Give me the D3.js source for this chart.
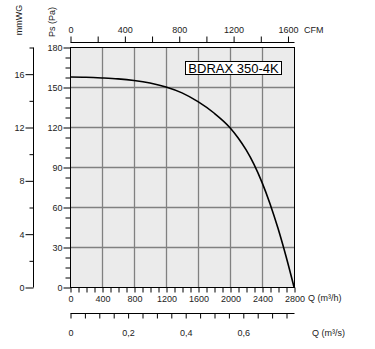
<!DOCTYPE html>
<html><head><meta charset="utf-8">
<script src="https://cdn.jsdelivr.net/npm/d3@7"></script>
<style>body{margin:0;background:#fff;} text{font-family:Arial,"Liberation Sans",sans-serif;fill:#222;}</style>
</head><body>
<script>
const flowM3h = [0, 200, 400, 600, 800, 1000, 1200, 1400, 1600, 1800, 2000, 2100, 2200, 2300, 2400, 2500, 2600, 2700, 2800];
const pressurePa = [157.5, 157.3, 156.8, 156.1, 154.9, 153, 150, 145.6, 139, 130.5, 119.5, 112, 103, 92, 78.5, 62.5, 44, 23, 0];
const paTicks = [0, 30, 60, 90, 120, 150, 180];
const mmTicks = [0, 4, 8, 12, 16];
const m3hTicks = [0, 400, 800, 1200, 1600, 2000, 2400, 2800];
const cfmTicks = [0, 400, 800, 1200, 1600];
const m3sTicks = [0, 0.2, 0.4, 0.6];
const modelName = "BDRAX 350-4K";

const W = 375, H = 349;
const FS = 9;
const svg = d3.select("body").append("svg").attr("width", W).attr("height", H);
const L = 70, R = 294, T = 47, B = 287;
const x = d3.scaleLinear().domain([0, 2800]).range([L, R]);
const y = d3.scaleLinear().domain([0, 180]).range([B, T]);
const yMm = d3.scaleLinear().domain([0, 18]).range([B, T]);
const xCfm = d3.scaleLinear().domain([0, 2800 / 1.699]).range([L, R]);
const xM3s = d3.scaleLinear().domain([0, 2800 / 3600]).range([L, R]);

// background
svg.append("rect").attr("x", L).attr("y", T).attr("width", R - L).attr("height", B - T).attr("fill", "#ebebeb");
// grid
svg.append("g").selectAll("line").data(m3hTicks.slice(1, -1)).join("line")
  .attr("x1", d => Math.round(x(d)) + 0.5).attr("x2", d => Math.round(x(d)) + 0.5)
  .attr("y1", T).attr("y2", B).attr("stroke", "#808080").attr("stroke-width", 1.3);
svg.append("g").selectAll("line").data(paTicks.slice(1, -1)).join("line")
  .attr("y1", d => Math.round(y(d)) + 0.5).attr("y2", d => Math.round(y(d)) + 0.5)
  .attr("x1", L).attr("x2", R).attr("stroke", "#808080").attr("stroke-width", 1.3);
svg.append("rect").attr("x", L + 0.5).attr("y", T + 0.5).attr("width", R - L).attr("height", B - T)
  .attr("fill", "none").attr("stroke", "#000").attr("stroke-width", 1);

// curve
const pts = flowM3h.map((q, i) => [q, pressurePa[i]]);
svg.append("path").datum(pts)
  .attr("d", d3.line().x(d => x(d[0])).y(d => y(d[1])).curve(d3.curveMonotoneX))
  .attr("fill", "none").attr("stroke", "#000").attr("stroke-width", 1.6);

// model box
const bx = 185, by = 61, bw = 96, bh = 13;
svg.append("rect").attr("x", bx + 0.5).attr("y", by + 0.5).attr("width", bw).attr("height", bh)
  .attr("fill", "#fff").attr("stroke", "#000");
svg.append("text").attr("x", bx + bw / 2 + 0.5).attr("y", by + 11.5).attr("text-anchor", "middle")
  .attr("font-size", 13).style("fill", "#000").text(modelName);

function ax(g) { g.selectAll("text").attr("font-size", FS).style("font-family", "Arial,'Liberation Sans',sans-serif").style("fill", "#222"); g.selectAll(".domain,line").attr("stroke", "#000"); }

// Pa axis
const paAxis = d3.axisLeft(y).tickValues(d3.range(0, 180.01, 7.5)).tickSize(5)
  .tickFormat(d => paTicks.includes(d) ? d : "").tickPadding(3);
const gPa = svg.append("g").attr("transform", `translate(${L + 0.5},0.5)`).call(paAxis);
gPa.selectAll(".tick").filter(d => paTicks.includes(d)).select("line").attr("x2", -7);
gPa.selectAll(".tick text").attr("x", -8);
gPa.select(".domain").remove();
ax(gPa);

// mmWG axis
const mmAxis = d3.axisLeft(yMm).tickValues(d3.range(0, 18.01, 2)).tickSize(4)
  .tickFormat(d => mmTicks.includes(d) ? d : "");
const gMm = svg.append("g").attr("transform", `translate(33.5,0.5)`).call(mmAxis);
gMm.selectAll(".tick").filter(d => mmTicks.includes(d)).select("line").attr("x2", -8);
gMm.selectAll(".tick text").attr("x", -9);
gMm.select(".domain").attr("d", `M0,${T}V${B}`);
ax(gMm);

// m3/h axis
const hAxis = d3.axisBottom(x).tickValues(d3.range(0, 2800.1, 100)).tickSize(5)
  .tickFormat(d => m3hTicks.includes(d) ? d : "").tickPadding(3);
const gH = svg.append("g").attr("transform", `translate(0.5,${B + 0.5})`).call(hAxis);
gH.select(".domain").remove();
ax(gH);

// CFM axis
const cAxis = d3.axisTop(xCfm).tickValues(d3.range(0, 1649, 200)).tickSize(6)
  .tickFormat(d => cfmTicks.includes(d) ? d : "").tickPadding(4);
const gC = svg.append("g").attr("transform", `translate(0.5,42.5)`).call(cAxis);
gC.select(".domain").attr("d", `M${L},0H${R}`);
ax(gC);

// m3/s axis
const sAxis = d3.axisBottom(xM3s).tickValues(d3.range(0, 0.7778, 0.05)).tickSize(5)
  .tickFormat(d => { const r = Math.round(d * 100) / 100; return m3sTicks.includes(r) ? String(r).replace(".", ",") : ""; }).tickPadding(11);
const gS = svg.append("g").attr("transform", `translate(0.5,313.5)`).call(sAxis);
gS.select(".domain").attr("d", `M${L},0H${R}`);
ax(gS);

// axis titles
svg.append("text").attr("x", 304).attr("y", 33).attr("font-size", FS).text("CFM");
svg.append("text").attr("x", 308).attr("y", 301).attr("font-size", FS).text("Q (m³/h)");
svg.append("text").attr("x", 312).attr("y", 336).attr("font-size", FS).text("Q (m³/s)");
svg.append("text").attr("transform", "translate(55,22) rotate(-90)").attr("text-anchor", "middle").attr("font-size", FS).text("Ps (Pa)");
svg.append("text").attr("transform", "translate(22,20) rotate(-90)").attr("text-anchor", "middle").attr("font-size", FS).text("mmWG");
</script>
</body></html>
